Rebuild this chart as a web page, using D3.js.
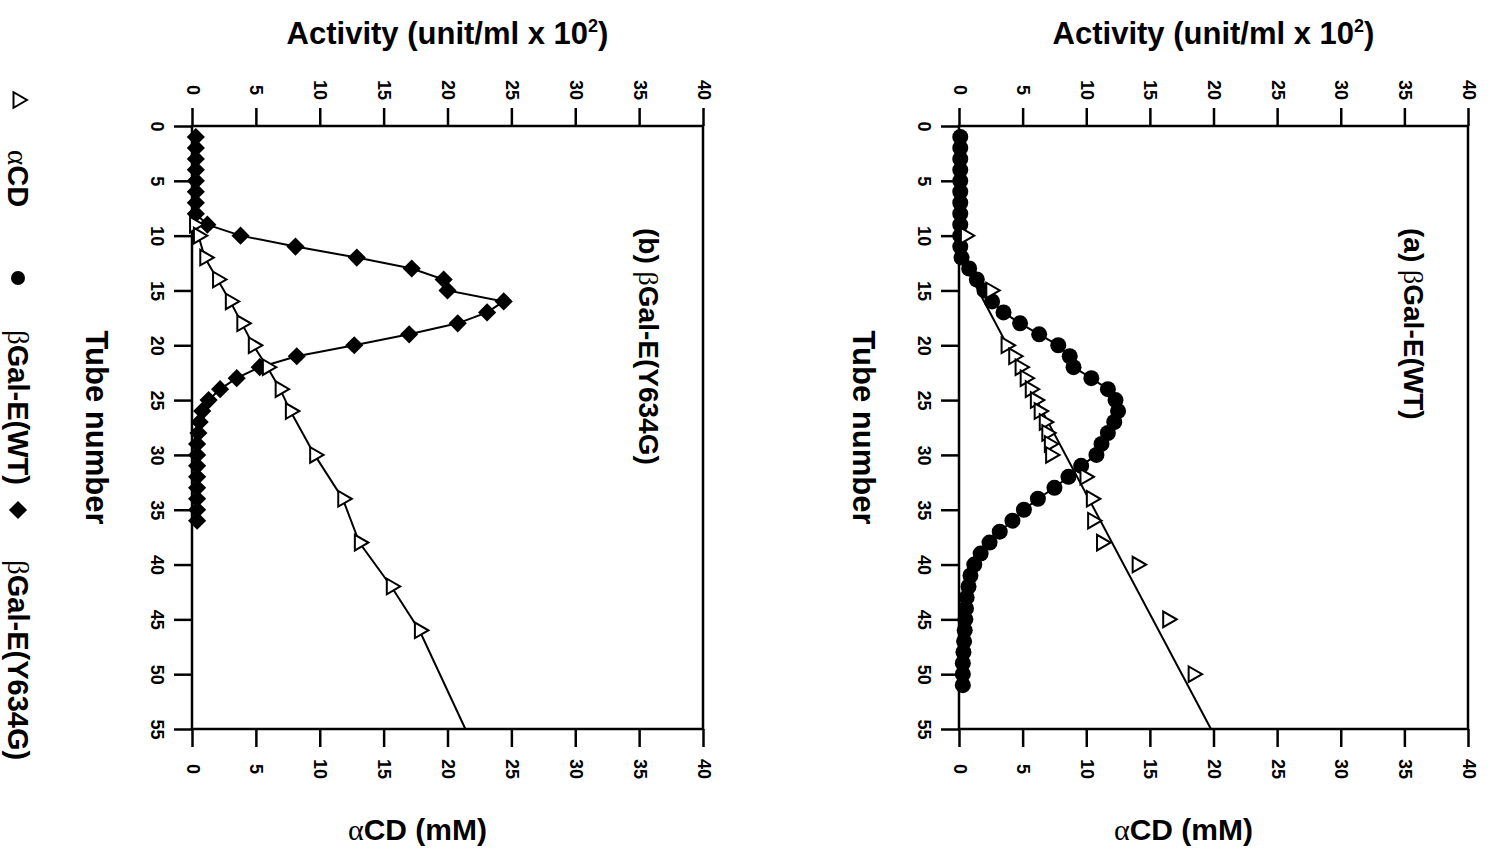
<!DOCTYPE html>
<meta charset="utf-8">
<style>
body { margin: 0; background: #fff; }
svg { font-family: "Liberation Sans", Arial, sans-serif; font-weight: bold; }
</style>
<svg width="1492" height="853"></svg>
<script src="https://d3js.org/d3.v7.min.js"></script>
<script>

// ---- data ----
var tubeTicks = [0, 5, 10, 15, 20, 25, 30, 35, 40, 45, 50, 55];
var valueTicks = [0, 5, 10, 15, 20, 25, 30, 35, 40];

// (a) betaGal-E(WT): activity per tube
var wtTube = [1, 2, 3, 4, 5, 6, 7, 8, 9, 10, 11, 12, 13, 14, 15, 16, 17, 18, 19, 20,
  21, 22, 23, 24, 25, 26, 27, 28, 29, 30, 31, 32, 33, 34, 35, 36, 37, 38, 39, 40,
  41, 42, 43, 44, 45, 46, 47, 48, 49, 50, 51];
var wtAct = [0.1, 0.1, 0.1, 0.1, 0.1, 0.1, 0.1, 0.1, 0.1, 0.1, 0.1, 0.2, 0.8, 1.4, 2.0, 2.6, 3.5, 4.8, 6.3, 7.8,
  8.7, 9.0, 10.4, 11.7, 12.3, 12.5, 12.2, 11.7, 11.2, 10.8, 9.6, 8.6, 7.5, 6.2, 5.1, 4.2, 3.2, 2.4, 1.7, 1.2,
  0.9, 0.75, 0.6, 0.55, 0.5, 0.45, 0.4, 0.35, 0.3, 0.3, 0.3];
// (a) alphaCD measured
var cdTubeA = [10, 15, 20, 21, 22, 23, 24, 25, 26, 27, 28, 29, 30, 32, 34, 36, 38, 40, 45, 50];
var cdA = [0.5, 2.5, 3.7, 4.3, 4.8, 5.2, 5.6, 6.0, 6.3, 6.7, 6.9, 7.1, 7.2, 9.9, 10.4, 10.5, 11.2, 14.0, 16.4, 18.4];
// (a) alphaCD gradient line
var gradTubeA = [11.7, 55];
var gradA = [0, 19.8];

// (b) betaGal-E(Y634G): activity per tube
var mutTube = [1, 2, 3, 4, 5, 6, 7, 8, 9, 10, 11, 12, 13, 14, 15, 16, 17, 18, 19, 20,
  21, 22, 23, 24, 25, 26, 27, 28, 29, 30, 31, 32, 33, 34, 35, 36];
var mutAct = [0.3, 0.3, 0.3, 0.3, 0.3, 0.3, 0.3, 0.3, 1.2, 3.8, 8.1, 12.9, 17.2, 19.7, 20.0, 24.4, 23.1, 20.8, 17.0, 12.7,
  8.2, 5.3, 3.5, 2.2, 1.3, 0.8, 0.6, 0.5, 0.4, 0.4, 0.4, 0.4, 0.4, 0.4, 0.4, 0.4];
// (b) alphaCD measured, line runs on to the frame
var cdTubeB = [9, 10, 12, 14, 16, 18, 20, 22, 24, 26, 30, 34, 38, 42, 46];
var cdB = [0.2, 0.5, 1.0, 2.0, 3.0, 3.9, 4.8, 5.9, 6.9, 7.7, 9.6, 11.8, 13.1, 15.6, 17.8];
var cdEndB = [55, 21.4];

var legendLabels = ["αCD", "βGal-E(WT)", "βGal-E(Y634G)"];

var svg = d3.select("svg");

var TOP = 126, BOTTOM = 729;

// write a string, greek letters in a light serif face
function richText(sel, str) {
  var buf = "";
  function flush() {
    if (buf) { sel.append("tspan").text(buf); buf = ""; }
  }
  for (var i = 0; i < str.length; i++) {
    var c = str[i];
    if (c === "α" || c === "β") {
      flush();
      sel.append("tspan").attr("font-family", "'Liberation Serif', serif").attr("font-weight", "normal").text(c);
    } else buf += c;
  }
  flush();
  return sel;
}

var triSym = d3.symbol().type(d3.symbolTriangle).size(105);
var diaSym = d3.symbol().type(d3.symbolSquare).size(165);

function styleAxis(a) {
  a.attr("font-family", null).attr("font-size", 18).attr("font-weight", "bold");
  a.selectAll("line, path").attr("stroke", "#000").attr("stroke-width", 2.5);
  a.select(".domain").remove();
  a.selectAll("text").attr("fill", "#000").attr("dy", null).attr("y", null).attr("x", null)
    .attr("text-anchor", "middle").attr("dominant-baseline", "central");
}

function drawPanel(p) {
  var x = d3.scaleLinear().domain([0, 40]).range([p.left, p.right]);
  var y = d3.scaleLinear().domain([0, 55]).range([TOP, BOTTOM]);
  var g = svg.append("g");

  // activity axis (top)
  var at = g.append("g").attr("transform", "translate(0," + TOP + ")")
    .call(d3.axisTop(x).tickValues(valueTicks).tickSize(18).tickSizeOuter(0));
  styleAxis(at);
  at.selectAll("text").attr("transform", "translate(0,-36) rotate(90)");

  // alphaCD axis (bottom)
  var ab = g.append("g").attr("transform", "translate(0," + BOTTOM + ")")
    .call(d3.axisBottom(x).tickValues(valueTicks).tickSize(18).tickSizeOuter(0));
  styleAxis(ab);
  ab.selectAll("text").attr("transform", "translate(0,40) rotate(90)");

  // tube axis (left)
  var al = g.append("g").attr("transform", "translate(" + p.left + ",0)")
    .call(d3.axisLeft(y).tickValues(tubeTicks).tickSize(18).tickSizeOuter(0));
  styleAxis(al);
  al.selectAll("text").attr("transform", "translate(-35,0) rotate(90)");

  g.append("rect")
    .attr("x", p.left).attr("y", TOP)
    .attr("width", p.right - p.left).attr("height", BOTTOM - TOP)
    .attr("fill", "none").attr("stroke", "#000").attr("stroke-width", 2.5);

  // titles
  var t1 = g.append("text").attr("x", (p.left + p.right) / 2).attr("y", 44)
    .attr("text-anchor", "middle").attr("font-size", 31);
  t1.append("tspan").text("Activity (unit/ml x 10");
  t1.append("tspan").attr("font-size", 18).attr("dy", -12).text("2");
  t1.append("tspan").attr("dy", 12).text(")");

  richText(g.append("text").attr("x", (p.left + p.right) / 2 - 30).attr("y", 840)
    .attr("text-anchor", "middle").attr("font-size", 30), "αCD (mM)");

  g.append("text").attr("transform", "translate(" + (p.left - 96) + "," + ((TOP + BOTTOM) / 2) + ") rotate(90)")
    .attr("text-anchor", "middle").attr("dominant-baseline", "central").attr("font-size", 31)
    .text("Tube number");

  richText(g.append("text").attr("transform", "translate(" + (p.right - 54) + ",228) rotate(90)")
    .attr("dominant-baseline", "central").attr("font-size", 28), p.label);

  var line = d3.line().x(function(d) { return x(d[1]); }).y(function(d) { return y(d[0]); });

  var act = d3.zip(p.actTube, p.act);
  var cd = d3.zip(p.cdTube, p.cd);

  g.append("path").attr("d", line(p.cdLine)).attr("fill", "none").attr("stroke", "#000").attr("stroke-width", 2);
  g.append("path").attr("d", line(act)).attr("fill", "none").attr("stroke", "#000").attr("stroke-width", 2);

  if (p.marker === "circle") {
    g.selectAll(".act").data(act).enter().append("circle")
      .attr("cx", function(d) { return x(d[1]); })
      .attr("cy", function(d) { return y(d[0]); })
      .attr("r", 8).attr("fill", "#000");
  } else {
    g.selectAll(".act").data(act).enter().append("path")
      .attr("d", diaSym)
      .attr("transform", function(d) { return "translate(" + x(d[1]) + "," + y(d[0]) + ") rotate(45)"; })
      .attr("fill", "#000");
  }

  g.selectAll(".cd").data(cd).enter().append("path")
    .attr("d", triSym)
    .attr("transform", function(d) { return "translate(" + x(d[1]) + "," + y(d[0]) + ") rotate(90)"; })
    .attr("fill", "#fff").attr("stroke", "#000").attr("stroke-width", 2);
}

drawPanel({
  left: 959, right: 1468, label: "(a) βGal-E(WT)", marker: "circle",
  actTube: wtTube, act: wtAct, cdTube: cdTubeA, cd: cdA,
  cdLine: d3.zip(gradTubeA, gradA)
});

drawPanel({
  left: 192, right: 703, label: "(b) βGal-E(Y634G)", marker: "diamond",
  actTube: mutTube, act: mutAct, cdTube: cdTubeB, cd: cdB,
  cdLine: d3.zip(cdTubeB, cdB).concat([cdEndB])
});

// legend, far left, reading downwards
var lg = svg.append("g").attr("transform", "translate(18,0)");
lg.append("path").attr("d", triSym).attr("transform", "translate(0,100) rotate(90)")
  .attr("fill", "#fff").attr("stroke", "#000").attr("stroke-width", 2);
lg.append("circle").attr("cx", 0).attr("cy", 278).attr("r", 7).attr("fill", "#000");
lg.append("path").attr("d", diaSym).attr("transform", "translate(0,510) rotate(45)").attr("fill", "#000");
var legendY = [150, 330, 560];
legendLabels.forEach(function(s, i) {
  richText(lg.append("text").attr("transform", "translate(0," + legendY[i] + ") rotate(90)")
    .attr("dominant-baseline", "central").attr("font-size", 29), s);
});

</script>
